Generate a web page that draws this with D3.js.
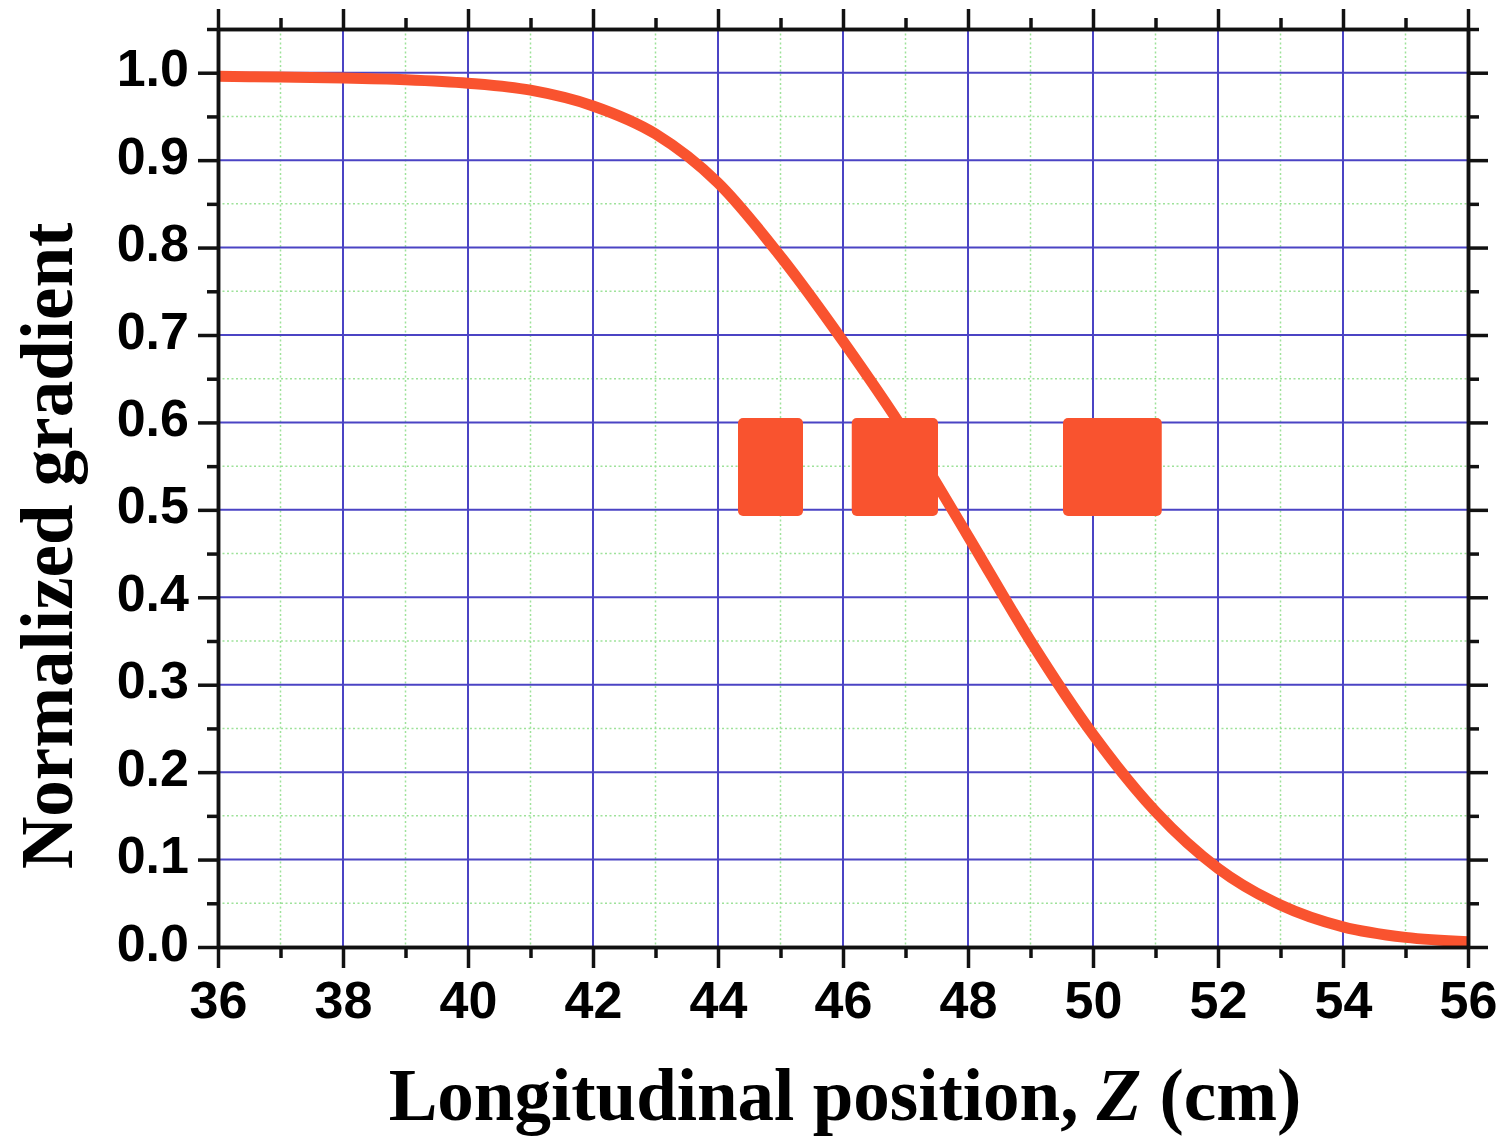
<!DOCTYPE html>
<html>
<head>
<meta charset="utf-8">
<script src="https://cdn.jsdelivr.net/npm/d3@7"></script>
<style>
  html, body { margin: 0; padding: 0; background: #ffffff; }
  svg { display: block; }
</style>
</head>
<body>
<svg id="chart" width="1510" height="1140"></svg>
<script>
// Normalized gradient profile along the axis
const zPos = [36, 37, 38, 39, 40, 41, 42, 43, 44, 45, 46, 47, 48, 49, 50, 51, 52, 53, 54, 55, 56];
const gradient = [0.996, 0.995, 0.994, 0.992, 0.988, 0.980, 0.962, 0.930, 0.874, 0.790, 0.693, 0.588, 0.470, 0.350, 0.243, 0.155, 0.090, 0.048, 0.023, 0.011, 0.006];

// Blocks marked along the axis (start, end in cm; band in gradient units)
const blockStart = [44.32, 46.14, 49.52];
const blockEnd   = [45.36, 47.52, 51.10];
const blockLow  = [0.493, 0.493, 0.493];
const blockHigh = [0.605, 0.605, 0.605];

// Axis ticks
const xMajor = [36, 38, 40, 42, 44, 46, 48, 50, 52, 54, 56];
const xMinor = [37, 39, 41, 43, 45, 47, 49, 51, 53, 55];
const yMajor = [0.0, 0.1, 0.2, 0.3, 0.4, 0.5, 0.6, 0.7, 0.8, 0.9, 1.0];
const yMinor = [0.05, 0.15, 0.25, 0.35, 0.45, 0.55, 0.65, 0.75, 0.85, 0.95, 1.05];

const xTitle = "Longitudinal position, ";
const yTitle = "Normalized gradient";

const svg = d3.select("#chart");
const plotLeft = 218, plotRight = 1468, plotTop = 29, plotBottom = 947;

const x = d3.scaleLinear().domain([36, 56]).range([plotLeft, plotRight]);
const y = d3.scaleLinear().domain([0, 1.05]).range([plotBottom, plotTop]);

const red = "#f9532f";

// grid: minor dotted green, major solid blue
const grid = svg.append("g");
grid.selectAll("line.vminor").data(xMinor).join("line")
  .attr("x1", d => x(d)).attr("x2", d => x(d))
  .attr("y1", plotTop).attr("y2", plotBottom)
  .attr("stroke", "#9ee29a").attr("stroke-width", 1.5).attr("stroke-dasharray", "2,2.5");
grid.selectAll("line.hminor").data(yMinor.filter(v => v < 1.05)).join("line")
  .attr("x1", plotLeft).attr("x2", plotRight)
  .attr("y1", d => y(d)).attr("y2", d => y(d))
  .attr("stroke", "#9ee29a").attr("stroke-width", 1.5).attr("stroke-dasharray", "2,2.5");
grid.selectAll("line.vmajor").data(xMajor.slice(1, -1)).join("line")
  .attr("x1", d => x(d)).attr("x2", d => x(d))
  .attr("y1", plotTop).attr("y2", plotBottom)
  .attr("stroke", "#4b44c4").attr("stroke-width", 2);
grid.selectAll("line.hmajor").data(yMajor.slice(1)).join("line")
  .attr("x1", plotLeft).attr("x2", plotRight)
  .attr("y1", d => y(d)).attr("y2", d => y(d))
  .attr("stroke", "#4b44c4").attr("stroke-width", 2);

// gradient curve
const line = d3.line().x(d => x(d[0])).y(d => y(d[1])).curve(d3.curveMonotoneX);
svg.append("path")
  .datum(zPos.map((z, i) => [z, gradient[i]]))
  .attr("d", line)
  .attr("fill", "none").attr("stroke", red).attr("stroke-width", 11)
  .attr("stroke-linecap", "butt");

// blocks
svg.append("g").selectAll("rect").data(blockStart).join("rect")
  .attr("x", (d, i) => x(d))
  .attr("y", (d, i) => y(blockHigh[i]))
  .attr("width", (d, i) => x(blockEnd[i]) - x(d))
  .attr("height", (d, i) => y(blockLow[i]) - y(blockHigh[i]))
  .attr("rx", 5).attr("ry", 5)
  .attr("fill", red);

// frame and ticks
const axisColor = "#111";
const fontNum = "'Liberation Sans', Arial, Helvetica, sans-serif";

const bottomAxis = d3.axisBottom(x).tickValues(xMajor).tickSize(21).tickFormat(d3.format("d")).tickSizeOuter(0);
const topAxis = d3.axisTop(x).tickValues(xMajor).tickSize(20).tickFormat("").tickSizeOuter(0);
const leftAxis = d3.axisLeft(y).tickValues(yMajor).tickSize(20).tickFormat(d3.format(".1f")).tickSizeOuter(0);
const rightAxis = d3.axisRight(y).tickValues(yMajor).tickSize(20).tickFormat("").tickSizeOuter(0);

const bottomMinor = d3.axisBottom(x).tickValues(xMinor).tickSize(11).tickFormat("").tickSizeOuter(0);
const topMinor = d3.axisTop(x).tickValues(xMinor).tickSize(11).tickFormat("").tickSizeOuter(0);
const leftMinor = d3.axisLeft(y).tickValues(yMinor).tickSize(11).tickFormat("").tickSizeOuter(0);
const rightMinor = d3.axisRight(y).tickValues(yMinor).tickSize(11).tickFormat("").tickSizeOuter(0);

function styleAxis(g) {
  g.selectAll("path.domain").attr("stroke", axisColor).attr("stroke-width", 3.5);
  g.selectAll(".tick line").attr("stroke", axisColor).attr("stroke-width", 3.5);
  g.selectAll(".tick text")
    .attr("fill", "#000")
    .style("font-family", fontNum)
    .style("font-weight", "bold")
    .style("font-size", "52px");
}

svg.append("g").attr("transform", `translate(0,${plotBottom})`).call(bottomMinor).call(styleAxis);
svg.append("g").attr("transform", `translate(0,${plotTop})`).call(topMinor).call(styleAxis);
svg.append("g").attr("transform", `translate(${plotLeft},0)`).call(leftMinor).call(styleAxis);
svg.append("g").attr("transform", `translate(${plotRight},0)`).call(rightMinor).call(styleAxis);

const gBottom = svg.append("g").attr("transform", `translate(0,${plotBottom})`).call(bottomAxis).call(styleAxis);
gBottom.selectAll(".tick text").attr("y", 34).attr("dy", "0.71em");
svg.append("g").attr("transform", `translate(0,${plotTop})`).call(topAxis).call(styleAxis);
const gLeft = svg.append("g").attr("transform", `translate(${plotLeft},0)`).call(leftAxis).call(styleAxis);
gLeft.selectAll(".tick text").attr("x", -29).attr("dy", "0.25em");
svg.append("g").attr("transform", `translate(${plotRight},0)`).call(rightAxis).call(styleAxis);

// axis titles
const fontTitle = "'Liberation Serif', 'Times New Roman', Times, serif";
const xt = svg.append("text")
  .attr("x", (385 + 1305) / 2).attr("y", 1120)
  .attr("text-anchor", "middle")
  .style("font-family", fontTitle).style("font-weight", "bold").style("font-size", "73px")
  .attr("fill", "#000");
xt.append("tspan").text(xTitle);
xt.append("tspan").style("font-style", "italic").text("Z");
xt.append("tspan").text(" (cm)");

svg.append("text")
  .attr("transform", "translate(72,546) rotate(-90)")
  .attr("text-anchor", "middle")
  .style("font-family", fontTitle).style("font-weight", "bold").style("font-size", "73px")
  .attr("fill", "#000")
  .text(yTitle);
</script>
</body>
</html>
